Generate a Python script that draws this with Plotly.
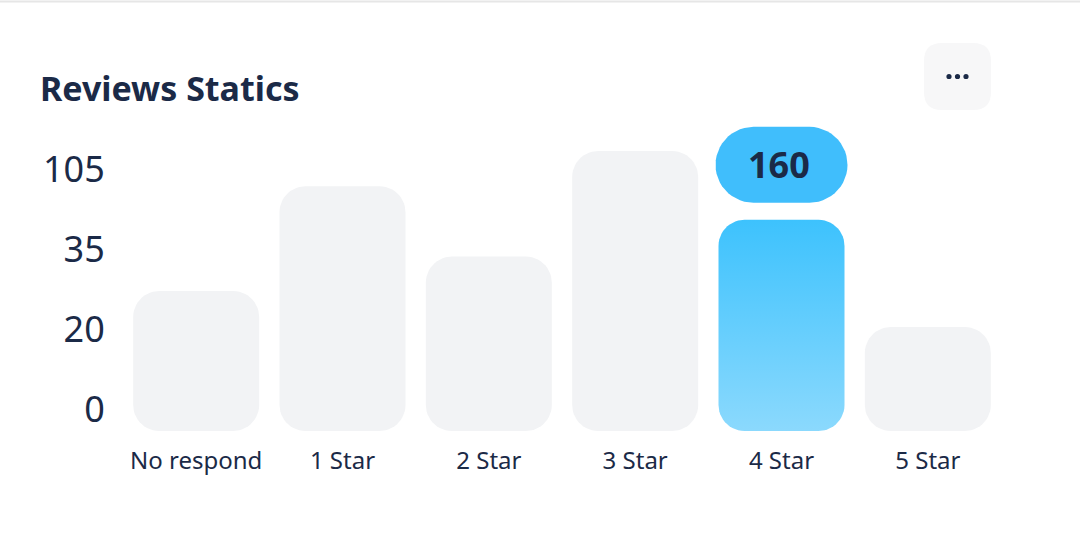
import numpy as np
import plotly.graph_objects as go

categories = ["No respond", "1 Star", "2 Star", "3 Star", "4 Star", "5 Star"]
bar_heights = [1.75, 3.06, 2.18, 3.50, 2.64, 1.30]   # in tick steps
y_tick_labels = ["0", "20", "35", "105"]
highlight = "4 Star"
highlight_label = "160"

W, H = 1080, 536
M = dict(l=123, r=79, t=120, b=105)
STEP_PX = 80
x_range = [-0.5, len(categories) - 0.5]
px_x = (W - M["l"] - M["r"]) / (x_range[1] - x_range[0])
px_y = STEP_PX
y_range = [0, (H - M["t"] - M["b"]) / STEP_PX]

NAVY = "#1B2A47"
GRAY = "#F2F3F5"
FONT = "Noto Sans"


def rounded(x0, x1, y0, y1, r):
    rx, ry = r / px_x, min(r / px_y, (y1 - y0) / 2)
    t = np.linspace(0, np.pi / 2, 14)
    xs, ys = [], []
    for cx, cy, a0 in [(x1 - rx, y1 - ry, 0), (x0 + rx, y1 - ry, np.pi / 2),
                       (x0 + rx, y0 + ry, np.pi), (x1 - rx, y0 + ry, 1.5 * np.pi)]:
        xs += list(cx + rx * np.cos(t + a0))
        ys += list(cy + ry * np.sin(t + a0))
    return xs + xs[:1], ys + ys[:1]


fig = go.Figure()
half_w = 126 / 2 / px_x

for i, (cat, h) in enumerate(zip(categories, bar_heights)):
    xs, ys = rounded(i - half_w, i + half_w, 0, h, 26)
    if cat == highlight:
        fig.add_trace(go.Scatter(x=xs, y=ys, mode="lines", fill="toself",
                                 line=dict(width=0, color="#6ccffd"),
                                 fillgradient=dict(type="vertical",
                                                   colorscale=[[0, "#8BD9FD"], [1, "#3DC2FD"]]),
                                 hoverinfo="skip", showlegend=False))
        # value bubble above the bar
        b0 = h + 17 / px_y
        bx, by = rounded(i - 66 / px_x, i + 66 / px_x, b0, b0 + 76 / px_y, 38)
        fig.add_trace(go.Scatter(x=bx, y=by, mode="lines", fill="toself",
                                 fillcolor="#40BEFC", line=dict(width=0, color="#40BEFC"),
                                 hoverinfo="skip", showlegend=False))
        fig.add_annotation(x=i - 0.015, y=b0 + 38 / px_y, text=f"<b>{highlight_label}</b>",
                           showarrow=False, font=dict(size=36, color=NAVY, family=FONT))
    else:
        fig.add_trace(go.Scatter(x=xs, y=ys, mode="lines", fill="toself",
                                 fillcolor=GRAY, line=dict(width=0, color=GRAY),
                                 hoverinfo="skip", showlegend=False))

plot_w = W - M["l"] - M["r"]
plot_h = H - M["t"] - M["b"]

# top border line
fig.add_shape(type="line", xref="paper", yref="paper", x0=-0.2, x1=1.2,
              y0=1 + (M["t"] - 1.5) / plot_h, y1=1 + (M["t"] - 1.5) / plot_h,
              line=dict(color="#E6E6E6", width=2))

# menu button
r = 18
s = 33.5
path = (f"M {-s + r} {-s} L {s - r} {-s} Q {s} {-s} {s} {-s + r} L {s} {s - r} "
        f"Q {s} {s} {s - r} {s} L {-s + r} {s} Q {-s} {s} {-s} {s - r} "
        f"L {-s} {-s + r} Q {-s} {-s} {-s + r} {-s} Z")
bx_paper = (957.5 - M["l"]) / plot_w
by_paper = (H - M["b"] - 76.5) / plot_h
fig.add_shape(type="path", xref="paper", yref="paper", xsizemode="pixel", ysizemode="pixel",
              xanchor=bx_paper, yanchor=by_paper, path=path,
              fillcolor="#F7F7F8", line=dict(width=0))
for dx in (-8.5, 0, 8.5):
    fig.add_shape(type="circle", xref="paper", yref="paper", xsizemode="pixel",
                  ysizemode="pixel", xanchor=bx_paper, yanchor=by_paper,
                  x0=dx - 2.6, x1=dx + 2.6, y0=-2.6, y1=2.6,
                  fillcolor=NAVY, line=dict(width=0))

fig.update_layout(
    width=W, height=H, margin=M,
    paper_bgcolor="white", plot_bgcolor="white",
    title=dict(text="<b>Reviews Statics</b>", x=40 / W, xanchor="left", xref="container",
               y=1 - 89 / H, yanchor="middle", yref="container",
               font=dict(size=34, color=NAVY, family=FONT)),
    xaxis=dict(range=x_range, tickvals=list(range(len(categories))), ticktext=categories,
               showgrid=False, zeroline=False, showline=False, ticks="outside", ticklen=8,
               tickcolor="rgba(0,0,0,0)", tickfont=dict(size=24, color=NAVY, family=FONT),
               fixedrange=True),
    yaxis=dict(range=y_range, tickvals=[0.275 + k for k in range(len(y_tick_labels))],
               ticktext=y_tick_labels, showgrid=False, zeroline=False, showline=False,
               ticks="outside", ticklen=10, tickcolor="rgba(0,0,0,0)",
               tickfont=dict(size=36, color=NAVY, family=FONT), fixedrange=True),
    showlegend=False,
)

fig.write_html("out.html", config={"displayModeBar": False},
               post_script="document.body.style.margin='0';")
